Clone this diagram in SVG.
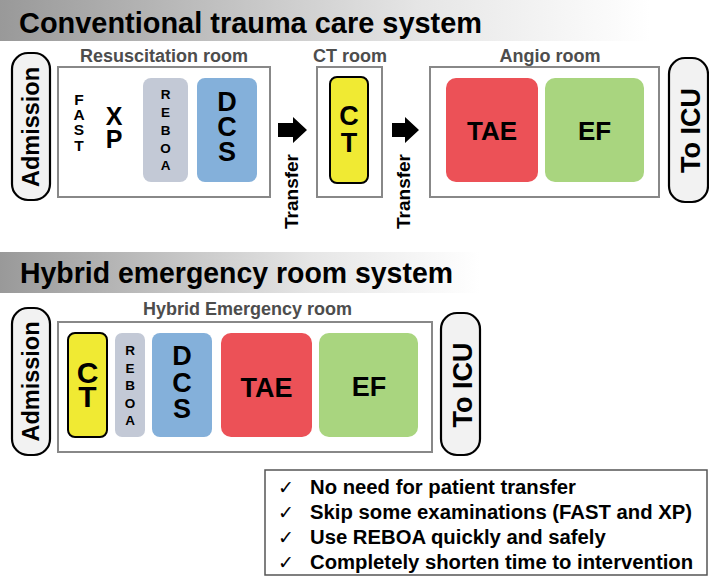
<svg xmlns="http://www.w3.org/2000/svg" width="709" height="577" viewBox="0 0 709 577">
<style>
text{font-family:"Liberation Sans",Arial,sans-serif;font-weight:bold;fill:#000}
.title{font-size:29px}
.lab{font-size:18px;fill:#4d4d4d;text-anchor:middle}
.room{fill:#fff;stroke:#888;stroke-width:2}
.term{fill:#f2f2f2;stroke:#000;stroke-width:2.2}
.vt{text-anchor:middle}
.c{text-anchor:middle}
.reboa{fill:#c3c9d6}
.dcs{fill:#84b0da}
.tae{fill:#ec5157}
.ef{fill:#a9d57f}
.ct{fill:#f0ea33;stroke:#000;stroke-width:2}
.arrow{fill:#000}
.chk{font-family:"DejaVu Sans",sans-serif;font-weight:normal;font-size:19px}
.bl{font-size:20.3px}
</style>
<defs>
<linearGradient id="g1" x1="0" y1="0" x2="1" y2="0">
<stop offset="0" stop-color="#999"/>
<stop offset="0.65" stop-color="#e6e6e6"/>
<stop offset="1" stop-color="#fff"/>
</linearGradient>
</defs>
<rect x="0" y="0" width="650" height="41" fill="url(#g1)"/>
<text class="title" x="19" y="33" textLength="463" lengthAdjust="spacingAndGlyphs">Conventional trauma care system</text>
<rect x="0" y="252" width="480" height="41" fill="url(#g1)"/>
<text class="title" x="20" y="283" font-size="28" textLength="433" lengthAdjust="spacingAndGlyphs">Hybrid emergency room system</text>

<g id="admission1"><rect class="term" x="12" y="53" width="38" height="147" rx="16"/><text class="vt" font-size="23.5" transform="translate(39,127) rotate(-90)">Admission</text></g>
<g id="resus-room"><rect class="room" x="58" y="67" width="212" height="130"/><text class="lab" x="164" y="62">Resuscitation room</text></g>
<g id="fast"><text class="c" font-size="15.5"><tspan x="79" y="105">F</tspan><tspan x="79" y="120">A</tspan><tspan x="79" y="135">S</tspan><tspan x="79" y="151">T</tspan></text></g>
<g id="xp"><text class="c" font-size="25"><tspan x="114" y="125">X</tspan><tspan x="114" y="148">P</tspan></text></g>
<g id="reboa1"><rect class="reboa" x="143" y="78" width="45" height="104" rx="8"/><text class="c" font-size="13.5"><tspan x="165.5" y="99">R</tspan><tspan x="165.5" y="117">E</tspan><tspan x="165.5" y="135">B</tspan><tspan x="165.5" y="153">O</tspan><tspan x="165.5" y="170">A</tspan></text></g>
<g id="dcs1"><rect class="dcs" x="197" y="78" width="60" height="104" rx="8"/><text class="c" font-size="27"><tspan x="227" y="111">D</tspan><tspan x="227" y="136">C</tspan><tspan x="227" y="161">S</tspan></text></g>
<g id="ct-room"><rect class="room" x="317" y="67" width="65" height="130"/><text class="lab" x="350" y="62">CT room</text></g>
<g id="ct1"><rect class="ct" x="330" y="77" width="38" height="106" rx="7"/><text class="c" font-size="27"><tspan x="349" y="125">C</tspan><tspan x="349" y="152">T</tspan></text></g>
<g id="angio-room"><rect class="room" x="430" y="67" width="229" height="130"/><text class="lab" x="550" y="62">Angio room</text></g>
<g id="tae1"><rect class="tae" x="446" y="78" width="92" height="104" rx="10"/><text class="c" font-size="26" x="492" y="140">TAE</text></g>
<g id="ef1"><rect class="ef" x="545" y="78" width="99" height="104" rx="10"/><text class="c" font-size="26" x="594.5" y="140">EF</text></g>
<g id="toicu1"><rect class="term" x="669" y="58" width="39" height="144" rx="16"/><text class="vt" font-size="27" transform="translate(700,130.5) rotate(-90)">To ICU</text></g>

<g id="connectors">
<path class="arrow" d="M278,123 H293 V117 L307,130 L293,143 V137 H278 Z"/>
<path class="arrow" d="M392,123 H405 V117 L419,130 L405,143 V137 H392 Z"/>
<text class="vt" font-size="19" transform="translate(298,191.5) rotate(-90)">Transfer</text>
<text class="vt" font-size="19" transform="translate(410,191.5) rotate(-90)">Transfer</text>
</g>

<g id="admission2"><rect class="term" x="12" y="308" width="38" height="147" rx="16"/><text class="vt" font-size="23.5" transform="translate(39,381.5) rotate(-90)">Admission</text></g>
<g id="hybrid-room"><rect class="room" x="58" y="322" width="374" height="130"/><text class="lab" x="247.5" y="315">Hybrid Emergency room</text></g>
<g id="ct2"><rect class="ct" x="68" y="333" width="39" height="104" rx="7"/><text class="c" font-size="30"><tspan x="87.5" y="383">C</tspan><tspan x="87.5" y="407">T</tspan></text></g>
<g id="reboa2"><rect class="reboa" x="115" y="333" width="30" height="104" rx="7"/><text class="c" font-size="13.5"><tspan x="130" y="355">R</tspan><tspan x="130" y="372.5">E</tspan><tspan x="130" y="390">B</tspan><tspan x="130" y="407.5">O</tspan><tspan x="130" y="425">A</tspan></text></g>
<g id="dcs2"><rect class="dcs" x="152" y="333" width="60" height="104" rx="8"/><text class="c" font-size="27"><tspan x="182" y="365">D</tspan><tspan x="182" y="392">C</tspan><tspan x="182" y="418">S</tspan></text></g>
<g id="tae2"><rect class="tae" x="221" y="333" width="91" height="104" rx="10"/><text class="c" font-size="27" x="266.5" y="397">TAE</text></g>
<g id="ef2"><rect class="ef" x="319" y="333" width="99" height="104" rx="10"/><text class="c" font-size="27" x="369" y="396">EF</text></g>
<g id="toicu2"><rect class="term" x="441" y="313" width="39" height="142" rx="16"/><text class="vt" font-size="27" transform="translate(472,385) rotate(-90)">To ICU</text></g>

<g id="benefits">
<rect x="265" y="470" width="442" height="105" fill="#fff" stroke="#555" stroke-width="1.5"/>
<text class="chk" x="278" y="494">✓</text>
<text class="chk" x="278" y="519">✓</text>
<text class="chk" x="278" y="544">✓</text>
<text class="chk" x="278" y="569">✓</text>
<text class="bl" x="310" y="494">No need for patient transfer</text>
<text class="bl" x="310" y="519">Skip some examinations (FAST and XP)</text>
<text class="bl" x="310" y="544">Use REBOA quickly and safely</text>
<text class="bl" x="310" y="569">Completely shorten time to intervention</text>
</g>
</svg>
